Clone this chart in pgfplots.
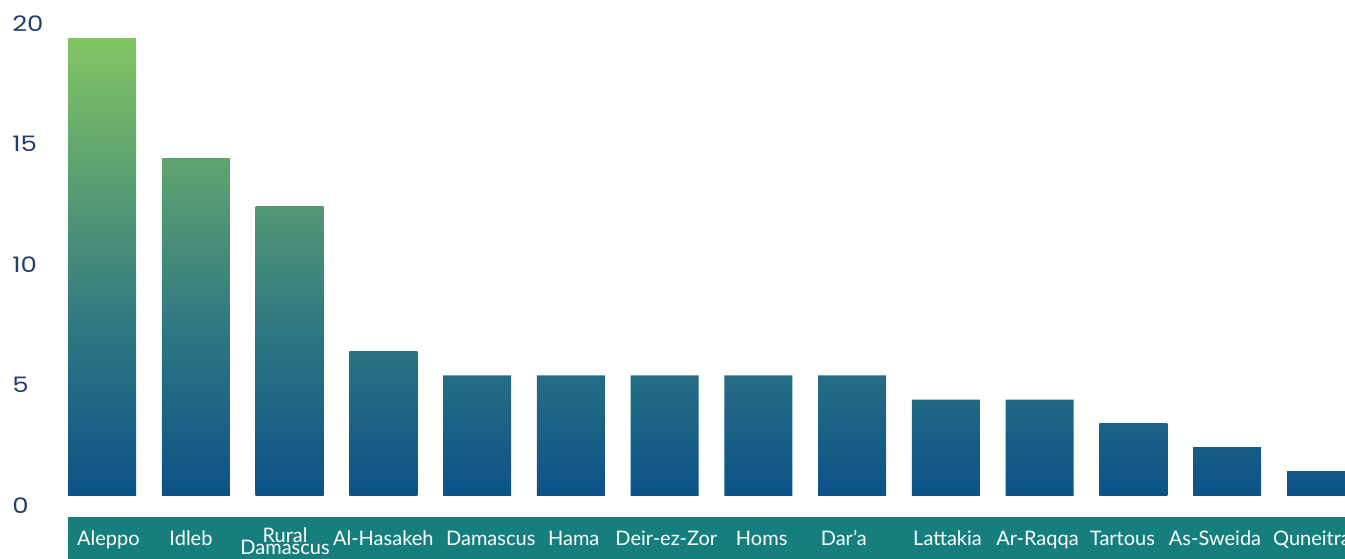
\documentclass[border=0pt]{standalone}
\usepackage{pgfplots}
\pgfplotsset{compat=1.18}
\usepackage{fontspec}
\setmainfont{Lato}
\newfontfamily\tickfont{Poppins}
\pgfdeclarelayer{background}
\pgfsetlayers{background,main}

\def\px{0.75pt}
\newlength\pxl \setlength\pxl{0.75pt}
\newcommand\lab[2]{\makebox[0pt]{\hspace*{#1\pxl}#2\hspace*{-#1\pxl}}}
\definecolor{cB}{HTML}{0C5288}
\definecolor{cM}{HTML}{2E7682}
\definecolor{cG}{HTML}{82C562}
\definecolor{band}{HTML}{167F7D}
\definecolor{ylab}{HTML}{213F70}
\colorlet{t14}{cG!59!cM}
\colorlet{t12}{cG!42.6!cM}

\pgfdeclareverticalshading{sh19}{100bp}{color(0bp)=(cB); color(25bp)=(cB); color(42.9bp)=(cM); color(75bp)=(cG); color(100bp)=(cG)}
\pgfdeclareverticalshading{sh14}{100bp}{color(0bp)=(cB); color(25bp)=(cB); color(49.3bp)=(cM); color(75bp)=(t14); color(100bp)=(t14)}
\pgfdeclareverticalshading{sh12}{100bp}{color(0bp)=(cB); color(25bp)=(cB); color(53.3bp)=(cM); color(75bp)=(t12); color(100bp)=(t12)}

\begin{document}
\begin{tikzpicture}
\begin{axis}[
  scale only axis,
  width=1277*\px, height=482*\px,
  xmin=-0.3626, xmax=13.256,
  ymin=0, ymax=20,
  axis line style={draw=none},
  tick style={draw=none},
  major tick length=0pt,
  xtick={0,...,13},
  xticklabels={\lab{6.3}{Aleppo}, \lab{-4.8}{Idleb},
    {\lab{-4.5}{\raisebox{-6.75pt}{\begin{tabular}[b]{@{}c@{}}Rural\\[-8.6pt]Damascus\end{tabular}}}},
    \lab{0}{Al-Hasakeh}, \lab{13.7}{Damascus}, \lab{2.9}{Hama}, \lab{1.7}{Deir-ez-Zor}, \lab{3.3}{Homs},
    \lab{-8.4}{Dar'a}, \lab{1.6}{Lattakia}, \lab{-2.2}{Ar-Raqqa}, \lab{-11}{Tartous}, \lab{-12.2}{As-Sweida}, \lab{-9}{Quneitra}},
  xticklabel style={font=\fontsize{15}{18}\selectfont, text=white, anchor=base, yshift=-50*\px},
  ytick={0,5,10,15,20},
  yticklabel={\scalebox{1.22}[1]{\pgfmathprintnumber{\tick}}},
  /pgf/number format/assume math mode=true,
  yticklabel style={font=\tickfont\fontsize{16}{19}\selectfont, text=ylab, anchor=west, inner sep=0pt, xshift=-56*\px, yshift=-9.5*\px},
  every axis plot/.append style={ybar, bar width=68*\px, bar shift=0pt, draw=none},
]
\addplot[shading=sh19] coordinates {(0,19)};
\addplot[shading=sh14] coordinates {(1,14)};
\addplot[shading=sh12] coordinates {(2,12)};
\addplot[bottom color=cB, top color=cM!88!cB] coordinates {(3,6)};
\addplot[bottom color=cB, top color=cM!73.5!cB] coordinates {(4,5) (5,5) (6,5) (7,5) (8,5)};
\addplot[bottom color=cB, top color=cM!58.8!cB] coordinates {(9,4) (10,4)};
\addplot[bottom color=cB, top color=cM!44!cB] coordinates {(11,3)};
\addplot[bottom color=cB, top color=cM!29.4!cB] coordinates {(12,2)};
\addplot[bottom color=cB, top color=cM!14.7!cB] coordinates {(13,1)};
\coordinate (SW) at (rel axis cs:0,0);
\coordinate (SE) at (rel axis cs:1,0);
\coordinate (NE) at (rel axis cs:1,1);
\end{axis}
\begin{pgfonlayer}{background}
\fill[band] ([yshift=-20.7*\px]SW) rectangle ([yshift=-63*\px]SE);
\end{pgfonlayer}
\pgfresetboundingbox
\path[use as bounding box] ([xshift=-68*\px, yshift=-63*\px]SW) rectangle ([yshift=14*\px]NE);
\end{tikzpicture}
\end{document}
